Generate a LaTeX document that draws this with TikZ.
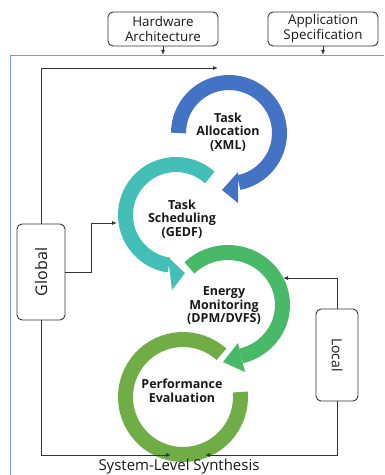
\documentclass[tikz,border=0pt]{standalone}
\usepackage{fontspec}
\setmainfont{Open Sans}
\usetikzlibrary{arrows.meta}
\definecolor{allocblue}{HTML}{4472C4}
\definecolor{schedteal}{HTML}{43BFB8}
\definecolor{energygreen}{HTML}{48B869}
\definecolor{perfgreen}{HTML}{70AD47}
\definecolor{frameblue}{HTML}{7A9CD6}
\definecolor{linegray}{HTML}{333333}
\begin{document}
\begin{tikzpicture}[x=1pt,y=1pt,
	box/.style={draw=linegray, rounded corners=5pt, line width=0.9pt, align=center, inner sep=0pt, text=black!90},
	ring/.style={line width=15pt},
	conn/.style={draw=linegray, line width=0.9pt, -{Latex[length=5pt,width=4pt]}},
	ringtext/.style={align=center, text=black!90, font=\bfseries\fontsize{12.5}{13.5}\selectfont}]
	\useasboundingbox (0,0) rectangle (384,-475);
	
	% frame
	\draw[frameblue, line width=1pt] (10,-475) -- (10,-55) -- (384,-55);
	
	% inputs
	\node[box, minimum width=110pt, minimum height=34pt, font=\fontsize{13.4}{15}\selectfont] (hw) at (163,-29) {Hardware\\Architecture};
	\node[box, minimum width=110pt, minimum height=34pt, font=\fontsize{13.4}{15}\selectfont] (app) at (323,-29) {Application\\Specification};
	\coordinate (hwIn) at (163,-55);
	\coordinate (appIn) at (323,-55);
	\draw[conn] (hw) -- (hwIn);
	\draw[conn] (app) -- (appIn);
	
	% rings
	\coordinate (cPerf) at (183,-397);
	\coordinate (cEnergy) at (228,-305);
	\coordinate (cSched) at (176,-215);
	\coordinate (cAlloc) at (229,-133);
	
	\draw[ring, perfgreen] ([shift={(48:57.5)}]cPerf) arc[start angle=48, end angle=365, radius=57.5];
	
	\draw[ring, energygreen] ([shift={(135:54.5 and 52.5)}]cEnergy) arc[start angle=135, end angle=-76, x radius=54.5, y radius=52.5];
	\fill[energygreen] ([shift={(10,-38)}]cEnergy) -- ([shift={(17,-67)}]cEnergy) -- ([shift={(-5,-57)}]cEnergy) -- cycle;
	
	\draw[ring, schedteal] ([shift={(48:50.5)}]cSched) arc[start angle=48, end angle=262, radius=50.5];
	\fill[schedteal] ([shift={(-8,-42)}]cSched) -- ([shift={(-4,-75)}]cSched) -- ([shift={(9,-58)}]cSched) -- cycle;
	
	\draw[ring, allocblue] ([shift={(180:50.5)}]cAlloc) arc[start angle=180, end angle=-79, radius=50.5];
	\fill[allocblue] ([shift={(9,-39)}]cAlloc) -- ([shift={(9,-70)}]cAlloc) -- ([shift={(-7,-57)}]cAlloc) -- cycle;
	
	\node[ringtext] (alloc) at (228,-132) {Task\\Allocation\\(XML)};
	\node[ringtext] (sched) at (182,-219) {Task\\Scheduling\\(GEDF)};
	\node[ringtext] (energy) at (224,-306) {Energy\\Monitoring\\(DPM/DVFS)};
	\node[ringtext] (perf) at (182,-391) {Performance\\Evaluation};
	
	% control
	\node[box, minimum width=48pt, minimum height=96pt, font=\fontsize{16}{16}\selectfont] (global) at (41,-272) {\rotatebox{90}{Global}};
	\node[box, minimum width=42pt, minimum height=92pt, font=\fontsize{14}{14}\selectfont] (local) at (337,-355) {\rotatebox{-90}{Local}};
	
	\coordinate (allocIn) at (218,-68);
	\coordinate (schedIn) at (117,-223);
	\coordinate (energyIn) at (283,-278);
	\coordinate (synthL) at (171,-455);
	\coordinate (synthR) at (205,-455);
	\draw[conn] (global.north) |- (allocIn);
	\draw[conn] (global.east) -- ++(26,0) |- (schedIn);
	\draw[conn] (global.south) |- (synthL);
	\draw[conn] (local.north) |- (energyIn);
	\draw[conn] (local.south) |- (synthR);
	
	\node[font=\fontsize{15}{15}\selectfont, text=black!90] (synth) at (179,-467) {System-Level Synthesis};
\end{tikzpicture}
\end{document}
